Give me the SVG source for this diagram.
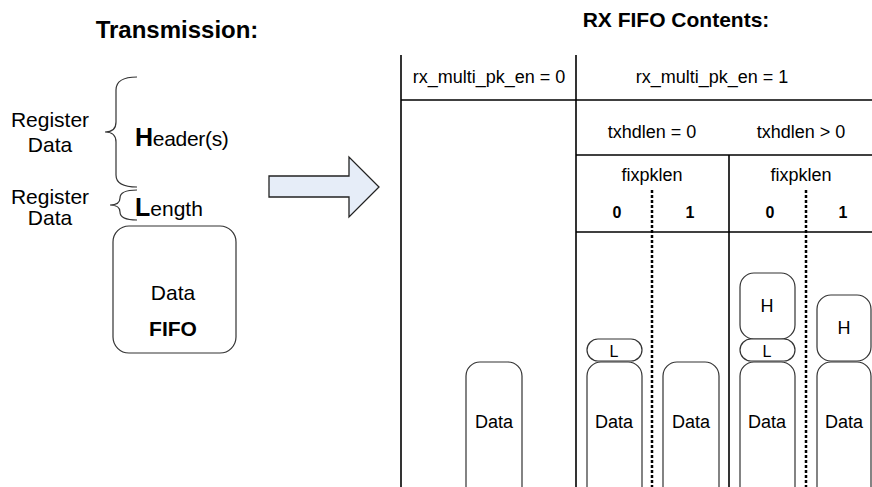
<svg xmlns="http://www.w3.org/2000/svg" width="872" height="487" viewBox="0 0 872 487">
<style>
text{font-family:"Liberation Sans",Arial,sans-serif;fill:#000}
.t{font-size:21px;font-weight:bold;text-anchor:middle}
.n{font-size:18px;text-anchor:middle}
.l{font-size:21px;text-anchor:middle}
.nb{font-size:16px;font-weight:bold;text-anchor:middle}
.box{fill:#fff;stroke:#333;stroke-width:1.2}
.grid{stroke:#000;stroke-width:1.6;fill:none}
.dash{stroke:#000;stroke-width:2.5;stroke-dasharray:3 2;fill:none}
.brace{fill:none;stroke:#333;stroke-width:1.2}
</style>
<rect width="872" height="487" fill="#fff"/>
<text class="t" x="177" y="38" style="font-size:24px">Transmission:</text>
<text class="t" x="676" y="27">RX FIFO Contents:</text>
<g id="hdr-brace">
<path class="brace" d="M137,77 Q116,77 116,90 L116,122 Q116,132 105,132 Q116,132 116,142 L116,175 Q116,187 137,187"/>
<text class="l" x="50" y="127">Register</text>
<text class="l" x="50" y="152">Data</text>
<text x="135" y="146" style="font-size:21px;letter-spacing:-0.3px"><tspan style="font-size:25px;font-weight:bold">H</tspan>eader(s)</text>
</g>
<g id="len-brace">
<path class="brace" d="M137,190 Q120,190 120,198 Q120,205 110,205 Q120,205 120,212 Q120,220 137,220"/>
<text class="l" x="50" y="204">Register</text>
<text class="l" x="50" y="225">Data</text>
<text x="135" y="216" style="font-size:21px"><tspan style="font-size:25px;font-weight:bold">L</tspan>ength</text>
</g>
<g id="fifo">
<rect class="box" x="113" y="226" width="123" height="127" rx="16"/>
<text class="l" x="173" y="300">Data</text>
<text class="l" x="173" y="336" style="font-weight:bold">FIFO</text>
</g>
<g id="arrow">
<path d="M269,176 L349,176 L349,157 L379,187 L349,217 L349,197 L269,197 Z" fill="#e6edf8" stroke="#222" stroke-width="1.3"/>
</g>
<g id="connectors">
<line class="grid" x1="401" y1="55" x2="401" y2="487"/>
<line class="grid" x1="576" y1="55" x2="576" y2="487"/>
<line class="grid" x1="729" y1="155" x2="729" y2="487"/>
<line class="grid" x1="401" y1="100" x2="872" y2="100"/>
<line class="grid" x1="576" y1="155" x2="872" y2="155"/>
<line class="grid" x1="576" y1="232" x2="872" y2="232"/>
<line class="dash" x1="652" y1="190" x2="652" y2="487"/>
<line class="dash" x1="806" y1="190" x2="806" y2="487"/>
</g>
<g id="headers">
<text class="n" x="489" y="83">rx_multi_pk_en = 0</text>
<text class="n" x="712" y="83">rx_multi_pk_en = 1</text>
<text class="n" x="652" y="138">txhdlen = 0</text>
<text class="n" x="801" y="138">txhdlen &gt; 0</text>
<text class="n" x="652" y="181">fixpklen</text>
<text class="n" x="801" y="181">fixpklen</text>
<text class="nb" x="617" y="218">0</text>
<text class="nb" x="690" y="218">1</text>
<text class="nb" x="770" y="218">0</text>
<text class="nb" x="843" y="218">1</text>
</g>
<g id="col1-data">
<rect class="box" x="466" y="362" width="56" height="140" rx="14"/>
<text class="n" x="494" y="428">Data</text>
</g>
<g id="col2-len">
<rect class="box" x="587" y="339" width="55" height="22" rx="11"/>
<text class="n" x="614" y="357" style="font-size:16px">L</text>
</g>
<g id="col2-data">
<rect class="box" x="587" y="362" width="55" height="140" rx="14"/>
<text class="n" x="614" y="428">Data</text>
</g>
<g id="col3-data">
<rect class="box" x="663" y="362" width="56" height="140" rx="14"/>
<text class="n" x="691" y="428">Data</text>
</g>
<g id="col4-hdr">
<rect class="box" x="740" y="273" width="55" height="66" rx="14"/>
<text class="n" x="767" y="312">H</text>
</g>
<g id="col4-len">
<rect class="box" x="740" y="339" width="55" height="22" rx="11"/>
<text class="n" x="767" y="357" style="font-size:16px">L</text>
</g>
<g id="col4-data">
<rect class="box" x="740" y="362" width="55" height="140" rx="14"/>
<text class="n" x="767" y="428">Data</text>
</g>
<g id="col5-hdr">
<rect class="box" x="817" y="295" width="54" height="66" rx="14"/>
<text class="n" x="844" y="334">H</text>
</g>
<g id="col5-data">
<rect class="box" x="817" y="362" width="54" height="140" rx="14"/>
<text class="n" x="844" y="428">Data</text>
</g>
</svg>
